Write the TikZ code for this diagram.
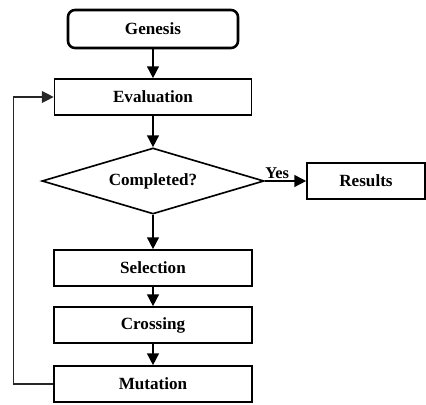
\documentclass[tikz,border=0pt]{standalone}
\usepackage{fontspec}
\setmainfont{Liberation Serif}
\usetikzlibrary{arrows.meta,positioning,calc,shapes.geometric}
\tikzset{
  gabox/.style={draw, rectangle, line width=1.4pt, inner sep=2pt, font=\bfseries\fontsize{14.6}{16}\selectfont,
    minimum width=5.94cm, minimum height=1.08cm},
  gastart/.style={gabox, rounded corners=6pt, line width=2.2pt, minimum width=5.1cm, minimum height=1.14cm},
  gadecide/.style={draw, diamond, aspect=3.4, line width=1.4pt, inner sep=0pt, font=\bfseries\fontsize{14.6}{16}\selectfont,
    minimum width=6.66cm, minimum height=1.98cm},
  gaarrow/.style={-{Triangle[length=10pt,width=10pt]}, line width=1.4pt},
  gaback/.style={-{Triangle[length=10pt,width=10pt]}, line width=1pt, black!85},
  galabel/.style={font=\bfseries\fontsize{14}{16}\selectfont, inner sep=1.5pt},
}

\begin{document}
\begin{tikzpicture}[x=1cm,y=1cm]
  \useasboundingbox (0,0) rectangle (12.78,12.15);

  \node[gastart] (genesis) at (4.59,11.28) {Genesis};
  \node[gabox, minimum width=5.91cm] (eval) at (4.59,9.24) {Evaluation};
  \node[gadecide] (done) at (4.59,6.72) {Completed?};
  \node[gabox, minimum width=3.54cm] (results) at (10.98,6.72) {Results};
  \node[gabox] (select) at (4.59,4.11) {Selection};
  \node[gabox] (cross) at (4.59,2.40) {Crossing};
  \node[gabox] (mutate) at (4.59,0.63) {Mutation};

  \draw[gaarrow] (genesis.south) -- (eval.north);
  \draw[gaarrow] (eval.south) -- (done.north);
  \draw[gaarrow] (done.south) -- (select.north);
  \draw[gaarrow] (select.south) -- (cross.north);
  \draw[gaarrow] (cross.south) -- (mutate.north);
  \draw[gaarrow] (done.east) -- node[galabel, pos=0.3, above] (yes) {Yes} (results.west);

  % loop back to the evaluation
  \draw[gaback] (mutate.west) -- ++(-1.2,0) |- (eval.west);
\end{tikzpicture}
\end{document}
